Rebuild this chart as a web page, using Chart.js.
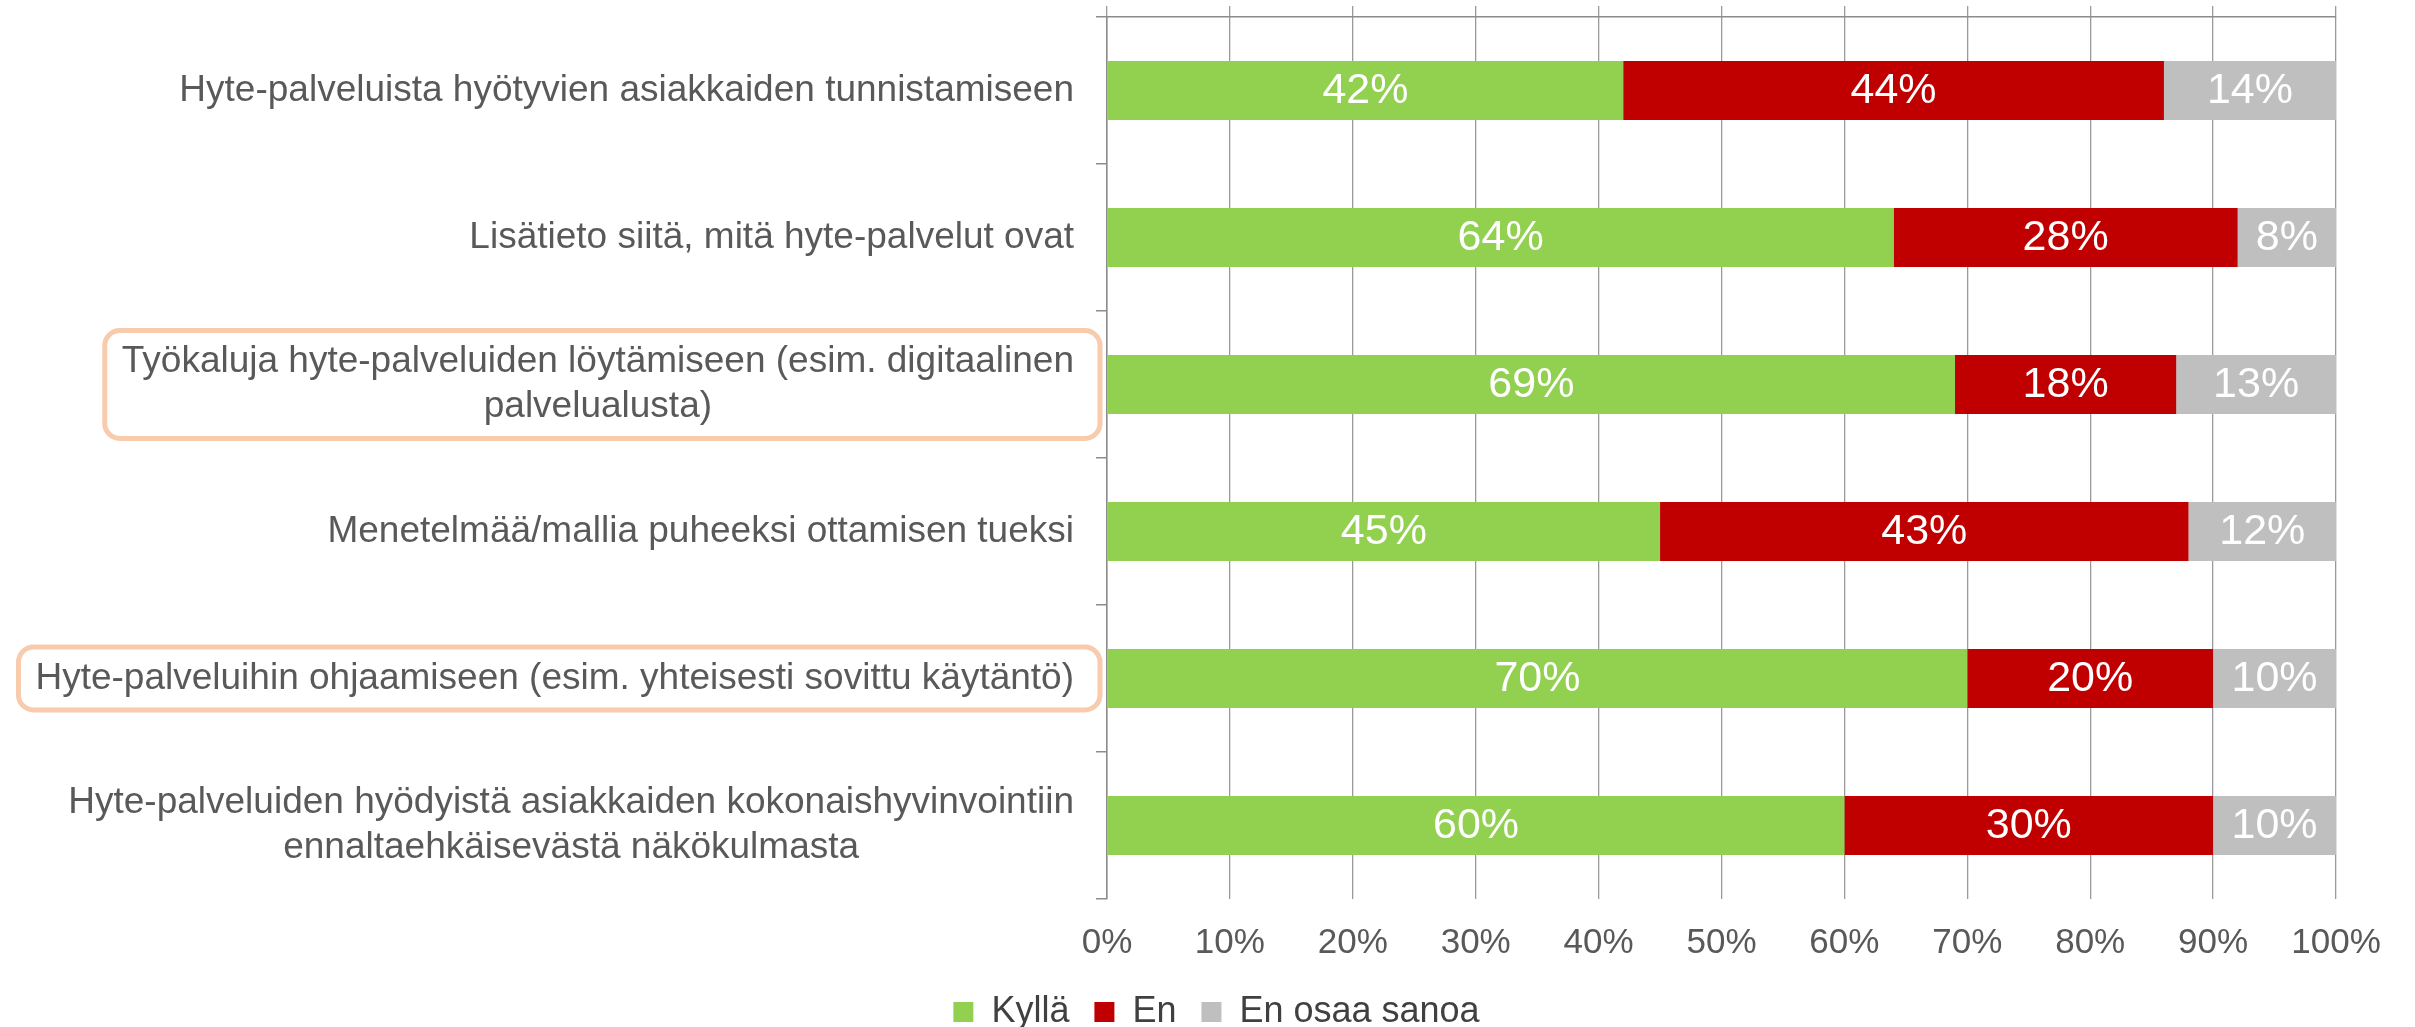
<!DOCTYPE html>
<html>
<head>
<meta charset="utf-8">
<script src="https://cdn.jsdelivr.net/npm/chart.js@4/dist/chart.umd.min.js"></script>
<style>
  html, body { margin: 0; padding: 0; background: #fff; }
  #wrap { width: 2415px; height: 1027px; }
</style>
</head>
<body>
<div id="wrap"><canvas id="hyteChart"></canvas></div>
<script>
const categories = [
    ["Hyte-palveluista hyötyvien asiakkaiden tunnistamiseen"],
    ["Lisätieto siitä, mitä hyte-palvelut ovat"],
    ["Työkaluja hyte-palveluiden löytämiseen (esim. digitaalinen", "palvelualusta)"],
    ["Menetelmää/mallia puheeksi ottamisen tueksi"],
    ["Hyte-palveluihin ohjaamiseen (esim. yhteisesti sovittu käytäntö)"],
    ["Hyte-palveluiden hyödyistä asiakkaiden kokonaishyvinvointiin", "ennaltaehkäisevästä näkökulmasta"],
];
const kylla = [42, 64, 69, 45, 70, 60];
const en = [44, 28, 18, 43, 20, 30];
const enOsaaSanoa = [14, 8, 13, 12, 10, 10];
const seriesNames = ["Kyllä", "En", "En osaa sanoa"];
const percentTicks = ["0%", "10%", "20%", "30%", "40%", "50%", "60%", "70%", "80%", "90%", "100%"];
// rows with the orange frame around the label
const highlighted = [2, 4];

const FONT = '"Liberation Sans", Arial, sans-serif';

// category labels: right aligned block, lines centered inside the block
const categoryLabels = {
    id: "categoryLabels",
    afterDraw(chart) {
        const yScale = chart.scales.y;
        const ctx = chart.ctx;
        const lineHeight = 45;
        const right = yScale.right - 33;
        ctx.save();
        ctx.font = "37px " + FONT;
        ctx.fillStyle = "#595959";
        ctx.textAlign = "center";
        ctx.textBaseline = "middle";
        chart.data.labels.forEach((lines, i) => {
            const cy = yScale.getPixelForValue(i);
            const blockW = Math.max(...lines.map(l => ctx.measureText(l).width));
            const cx = right - blockW / 2;
            lines.forEach((line, j) => {
                ctx.fillText(line, cx, cy + (j - (lines.length - 1) / 2) * lineHeight);
            });
            if (highlighted.includes(i)) {
                const half = lines.length * lineHeight / 2 + 9;
                const left = right - blockW - 17;
                const boxRight = yScale.right - 7;
                ctx.beginPath();
                ctx.roundRect(left, cy - half, boxRight - left, half * 2, 15);
                ctx.lineWidth = 5;
                ctx.strokeStyle = "#F8CBAD";
                ctx.stroke();
            }
        });
        ctx.restore();
    }
};

// percentage labels inside the bar segments
const valueLabels = {
    id: "valueLabels",
    afterDatasetsDraw(chart) {
        const ctx = chart.ctx;
        ctx.save();
        ctx.font = "43px " + FONT;
        ctx.fillStyle = "#ffffff";
        ctx.textAlign = "center";
        ctx.textBaseline = "middle";
        chart.data.datasets.forEach((ds, di) => {
            chart.getDatasetMeta(di).data.forEach((bar, i) => {
                const p = bar.getCenterPoint();
                ctx.fillText(ds.data[i] + "%", p.x, p.y + 1);
            });
        });
        ctx.restore();
    }
};

const barData = {
    labels: categories,
    datasets: [
        { label: seriesNames[0], data: kylla, backgroundColor: "#92D050" },
        { label: seriesNames[1], data: en, backgroundColor: "#C00000" },
        { label: seriesNames[2], data: enOsaaSanoa, backgroundColor: "#BFBFBF" },
    ],
};

const barConfig = {
    type: "bar",
    data: barData,
    options: {
        indexAxis: "y",
        responsive: true,
        maintainAspectRatio: false,
        animation: false,
        barPercentage: 0.4,
        categoryPercentage: 1,
        layout: { padding: { left: 97, right: 79, top: 6, bottom: -13 } },
        scales: {
            x: {
                stacked: true,
                min: 0,
                max: 100,
                ticks: {
                    stepSize: 10,
                    padding: 23,
                    color: "#595959",
                    font: { family: FONT, size: 35 },
                    callback: (v, i) => percentTicks[i],
                },
                grid: { color: "#9A9A9A", lineWidth: 1.3, drawTicks: false },
                border: { display: false },
                afterFit(scale) { scale.height = 70; },
            },
            x2: {
                position: "top",
                min: 0,
                max: 100,
                ticks: { display: false, stepSize: 10 },
                grid: { color: "#9A9A9A", lineWidth: 1.3, drawOnChartArea: false, tickLength: 11 },
                border: { display: true, color: "#8C8C8C", width: 1.5 },
            },
            y: {
                stacked: true,
                ticks: { display: false },
                grid: { drawOnChartArea: false, tickLength: 11, color: "#8C8C8C", lineWidth: 1.5 },
                border: { display: true, color: "#8C8C8C", width: 1.5 },
                afterFit(scale) { scale.width = 1010; },
            },
        },
        plugins: {
            legend: {
                position: "bottom",
                labels: {
                    boxWidth: 20,
                    boxHeight: 20,
                    padding: 25,
                    color: "#404040",
                    font: { family: FONT, size: 36 },
                },
            },
            tooltip: { enabled: false },
        },
    },
    plugins: [categoryLabels, valueLabels],
};

const hyteChart = new Chart(document.getElementById("hyteChart"), barConfig);
</script>
</body>
</html>
